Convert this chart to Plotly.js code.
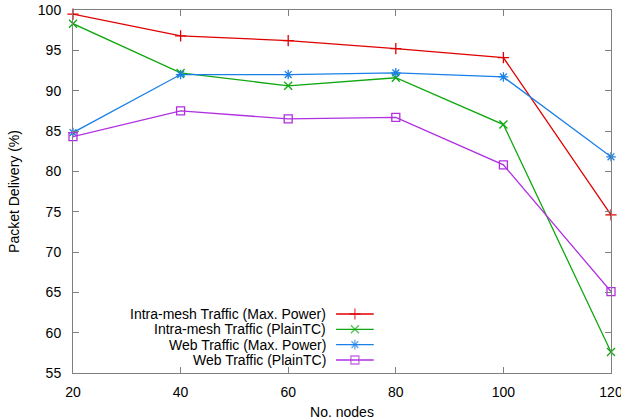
<!DOCTYPE html>
<html>
<head>
<meta charset="utf-8">
<script src="https://cdn.plot.ly/plotly-3.0.1.min.js"></script>
<style>html,body{margin:0;padding:0;background:#fff;}#chart{width:621px;height:420px;}</style>
</head>
<body>
<div id="chart"></div>
<script>
// Data
const nodes = [20, 40, 60, 80, 100, 120];
const intraMaxPower = [99.5, 96.8, 96.2, 95.2, 94.1, 74.6];
const intraPlainTC  = [98.3, 92.2, 90.6, 91.6, 85.8, 57.6];
const webMaxPower   = [84.8, 92.0, 92.0, 92.2, 91.7, 81.8];
const webPlainTC    = [84.3, 87.5, 86.5, 86.7, 80.8, 65.1];
const seriesNames = [
  "Intra-mesh Traffic (Max. Power)",
  "Intra-mesh Traffic (PlainTC)",
  "Web Traffic (Max. Power)",
  "Web Traffic (PlainTC)"
];
const xTicks = [20, 40, 60, 80, 100, 120];
const yTicks = [55, 60, 65, 70, 75, 80, 85, 90, 95, 100];

const colors = ["#e00000", "#10a810", "#1a80e8", "#b030e0"];
const symbols = ["cross-thin-open", "x-thin-open", "asterisk-open", "square-open"];
const values = [intraMaxPower, intraPlainTC, webMaxPower, webPlainTC];

const traces = [];
values.forEach((v, i) => {
  traces.push({
    x: nodes, y: v, type: "scatter", mode: "lines+markers",
    line: {color: colors[i], width: 1.3},
    marker: {symbol: symbols[i], size: 8, color: colors[i], line: {color: colors[i], width: 1.3}},
    showlegend: false, hoverinfo: "skip", cliponaxis: false
  });
});

// Gnuplot-style key: text on the left, sample on the right (overlay axis 0..1)
const keyX0 = 0.489, keyX1 = 0.559, keyTextX = 0.474;
const keyRows = [0.1625, 0.1204, 0.0782, 0.0358];
const annotations = [];
seriesNames.forEach((name, i) => {
  traces.push({
    x: [keyX0, (keyX0 + keyX1) / 2, keyX1], y: [keyRows[i], keyRows[i], keyRows[i]],
    xaxis: "x2", yaxis: "y2", type: "scatter", mode: "lines+markers",
    line: {color: colors[i], width: 1.3},
    marker: {symbol: symbols[i], size: [0, 8, 0], color: colors[i], line: {color: colors[i], width: 1.3}},
    showlegend: false, hoverinfo: "skip"
  });
  annotations.push({
    text: name, xref: "paper", yref: "paper", x: keyTextX, y: keyRows[i],
    xanchor: "right", yanchor: "middle", showarrow: false,
    font: {family: "Liberation Sans, Arial, sans-serif", size: 14, color: "#000"}
  });
});

const axisCommon = {
  showgrid: false, zeroline: false, showline: true, linecolor: "#7f7f7f", linewidth: 1,
  mirror: "ticks", ticks: "inside", ticklen: 6, tickcolor: "#7f7f7f", tickwidth: 1,
  ticklabeloverflow: "allow",
  tickfont: {family: "Liberation Sans, Arial, sans-serif", size: 14, color: "#000"}
};

const layout = {
  width: 621, height: 420,
  margin: {l: 73, r: 10, t: 10, b: 47},
  paper_bgcolor: "#fff", plot_bgcolor: "#fff",
  font: {family: "Liberation Sans, Arial, sans-serif", size: 14, color: "#000"},
  xaxis: Object.assign({}, axisCommon, {
    range: [20, 120], tickvals: xTicks, ticktext: xTicks.map(String),
    ticklabelstandoff: 6,
    title: {text: "No. nodes", standoff: 8, font: {size: 14}}
  }),
  yaxis: Object.assign({}, axisCommon, {
    range: [55, 100], tickvals: yTicks, ticktext: yTicks.map(String),
    ticklabelstandoff: 8,
    title: {text: "Packet Delivery (%)", standoff: 14, font: {size: 14}}
  }),
  xaxis2: {overlaying: "x", range: [0, 1], visible: false, fixedrange: true},
  yaxis2: {overlaying: "y", range: [0, 1], visible: false, fixedrange: true},
  annotations: annotations,
  showlegend: false
};

Plotly.newPlot("chart", traces, layout, {displayModeBar: false, staticPlot: true});
</script>
</body>
</html>
